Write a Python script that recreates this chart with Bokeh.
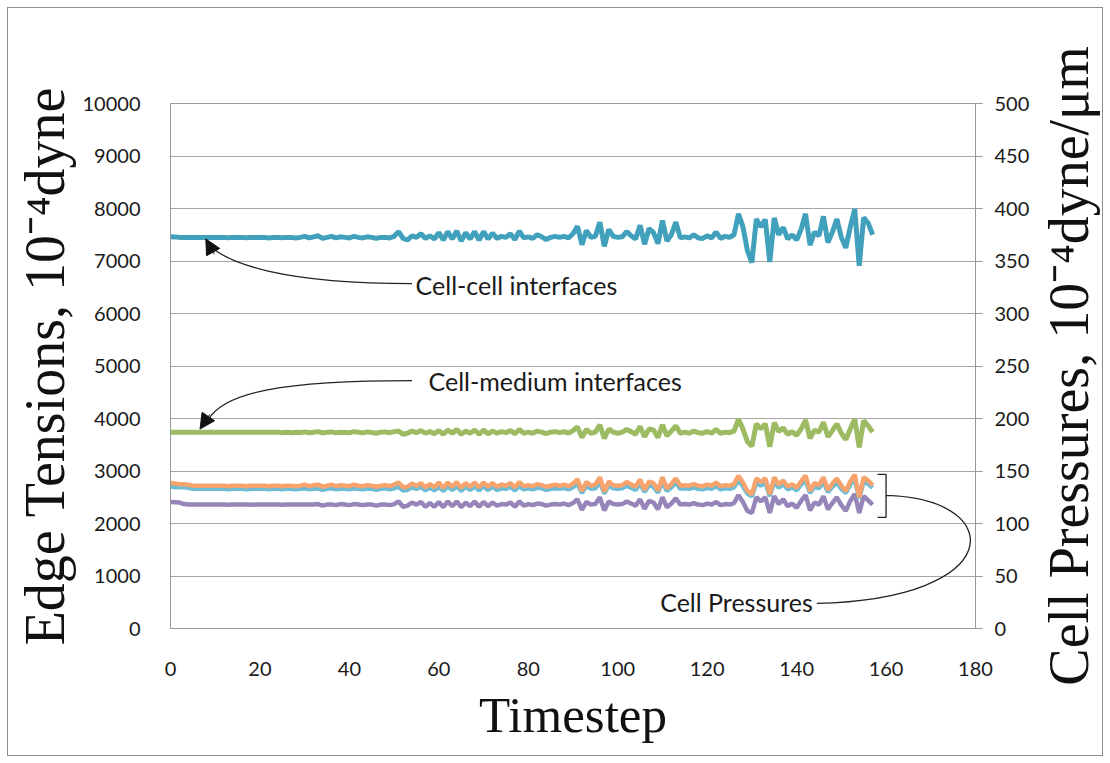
from bokeh.plotting import figure
from bokeh.layouts import row
from bokeh.models import (Range1d, LinearAxis, SingleIntervalTicker, FixedTicker,
                          Arrow, NormalHead)
from bokeh.embed import file_html
from bokeh.resources import INLINE
from bokeh.core.properties import value

# ---------------- data ----------------
cell_cell = [
    7460, 7455, 7450, 7450, 7450, 7450, 7450, 7450, 7450, 7450,
    7450, 7450, 7450, 7445, 7450, 7450, 7450, 7445, 7450, 7450,
    7450, 7450, 7440, 7450, 7450, 7445, 7450, 7450, 7440, 7450,
    7470, 7440, 7460, 7480, 7430, 7450, 7470, 7440, 7460, 7450,
    7440, 7470, 7450, 7440, 7460, 7450, 7430, 7450, 7450, 7440,
    7470, 7560, 7430, 7400, 7480, 7450, 7520, 7430, 7480, 7420,
    7540, 7400, 7560, 7420, 7570, 7380, 7540, 7420, 7560, 7400,
    7560, 7420, 7530, 7430, 7470, 7450, 7520, 7410, 7570, 7440,
    7460, 7430, 7500, 7460, 7410, 7450, 7470, 7450, 7470, 7440,
    7520, 7660, 7310, 7580, 7450, 7470, 7740, 7280, 7600, 7470,
    7450, 7460, 7560, 7480, 7420, 7680, 7320, 7620, 7540, 7330,
    7770, 7380, 7500, 7740, 7440, 7460, 7440, 7500, 7440, 7430,
    7480, 7440, 7550, 7430, 7470, 7450, 7500, 7900, 7650, 7200,
    6970, 7800, 7650, 7790, 6980, 7820, 7500, 7640, 7420, 7500,
    7400, 7600, 7900, 7300, 7550, 7480, 7850, 7350, 7550, 7800,
    7450, 7250, 7650, 7990, 6910, 7830, 7720, 7500,
]
cell_medium = [
    3740, 3740, 3740, 3740, 3740, 3740, 3740, 3740, 3740, 3740,
    3740, 3740, 3740, 3740, 3740, 3740, 3740, 3740, 3740, 3740,
    3740, 3740, 3740, 3740, 3740, 3730, 3740, 3730, 3740, 3735,
    3745, 3730, 3740, 3750, 3725, 3740, 3745, 3730, 3740, 3735,
    3730, 3750, 3740, 3725, 3745, 3735, 3720, 3740, 3745, 3730,
    3750, 3760, 3700, 3720, 3760, 3730, 3770, 3720, 3750, 3710,
    3770, 3700, 3780, 3720, 3790, 3700, 3760, 3720, 3780, 3700,
    3780, 3710, 3760, 3720, 3750, 3730, 3770, 3710, 3790, 3720,
    3740, 3720, 3760, 3740, 3710, 3740, 3750, 3730, 3750, 3720,
    3770, 3840, 3640, 3790, 3720, 3740, 3880, 3620, 3800, 3740,
    3720, 3740, 3790, 3750, 3700, 3850, 3650, 3800, 3780, 3640,
    3880, 3670, 3760, 3860, 3720, 3740, 3720, 3760, 3730, 3720,
    3750, 3720, 3790, 3720, 3740, 3730, 3760, 3990, 3800, 3560,
    3470, 3900, 3800, 3900, 3460, 3920, 3750, 3820, 3700, 3750,
    3680, 3800, 3970, 3620, 3780, 3740, 3930, 3650, 3770, 3900,
    3720, 3600, 3800, 3990, 3450, 3960, 3860, 3740,
]
pressure_orange = [
    138.5, 138, 137.5, 137.5, 137, 136, 136, 136, 136, 136,
    136, 136, 136, 135.5, 136, 136, 136, 135.5, 136, 136,
    136, 136, 135.5, 136, 136, 135.5, 136, 136, 135.5, 136,
    137, 135.5, 136.5, 137, 135, 136, 137, 135.5, 136.5, 136,
    135.5, 137, 136, 135.5, 136.5, 136, 135, 136, 136.5, 135.5,
    137, 139, 134.5, 135, 138, 136, 138.5, 134.5, 137.5, 134.5,
    139, 134, 139, 135, 139.5, 134, 138.5, 135, 139, 134.5,
    139, 135, 138.5, 135, 137, 136, 138.5, 134.5, 139.5, 135.5,
    136.5, 135.5, 137.5, 136.5, 135, 136, 137, 136, 137, 135.5,
    138, 142, 131, 139.5, 136, 137, 144, 130.5, 140, 136.5,
    136, 136.5, 139.5, 137, 135, 142, 132, 140, 138.5, 131.5,
    144, 133.5, 137.5, 143, 136, 136.5, 136, 137.5, 136, 135.5,
    137, 136, 139, 135.5, 136.5, 136, 137.5, 145.5, 139, 131,
    128, 143, 139.5, 143, 128, 144, 137, 141, 135, 137.5,
    134, 140, 145.5, 131, 138.5, 136.5, 144, 132, 138, 143,
    136, 131, 140, 146.5, 125, 144, 141, 136.5,
]
pressure_cyan = [
    135.5, 134.5, 134.5, 134.5, 134, 133, 133, 133, 133, 133,
    133, 133, 133, 132.5, 133, 133, 133, 132.5, 133, 133,
    133, 133, 132.5, 133, 133, 132.5, 133, 133, 132.5, 133,
    133.5, 132.5, 133, 133.5, 132, 133, 133.5, 132.5, 133, 133,
    132.5, 133.5, 133, 132.5, 133, 133, 132, 133, 133.5, 132.5,
    133.5, 135, 131.5, 132, 134.5, 133, 135, 131.5, 134, 131.5,
    135, 131, 135.5, 132, 135.5, 131, 135, 132, 135.5, 131.5,
    135.5, 132, 135, 132, 133.5, 133, 135, 131.5, 135.5, 132.5,
    133.5, 132.5, 134, 133.5, 132, 133, 133.5, 133, 134, 132.5,
    134.5, 138, 129, 136, 133, 133.5, 139.5, 128.5, 136.5, 133.5,
    133, 133.5, 136, 134, 132, 138, 130, 136.5, 135, 129.5,
    139.5, 131, 134.5, 139, 133, 133.5, 133, 134.5, 133, 132.5,
    134, 133, 135.5, 132.5, 133.5, 133, 134.5, 141, 135.5, 128.5,
    126, 139, 136, 139, 126, 140, 134, 137.5, 132.5, 134.5,
    131.5, 137, 141, 129, 135, 133.5, 140, 130, 135, 139,
    133, 129, 137, 142, 124, 140, 137.5, 134,
]
pressure_purple = [
    120.5, 120.3, 120, 118.5, 118, 118, 118, 118, 118, 118,
    118, 118, 118, 117.8, 118, 118, 118, 118, 117.8, 118,
    118, 118, 118, 118, 118, 117.8, 118, 118, 118, 118,
    118, 118, 118, 118.5, 117, 118, 118, 117.5, 118.5, 118,
    117.5, 118.5, 118, 117.5, 118, 118, 117, 118, 118, 117.5,
    118.5, 121, 116, 117, 120, 118, 120.5, 116, 119.5, 116,
    120.5, 115.5, 121, 116.5, 121, 115.5, 120, 116.5, 121, 116,
    120.5, 116.5, 120, 117, 118.5, 118, 120, 116, 121, 117,
    118.5, 117.5, 119, 118.5, 117, 118, 118.5, 118, 119, 117.5,
    119.5, 123, 113, 120.5, 118, 118.5, 125, 112.5, 121, 118.5,
    118, 118.5, 121, 119, 117, 123, 114, 121.5, 120, 113.5,
    125, 115.5, 119, 124, 118, 118.5, 118, 119.5, 118, 117.5,
    119, 118, 120.5, 117.5, 118.5, 118, 119.5, 127, 120.5, 112,
    110, 125, 121, 125, 110, 126, 118.5, 123, 116.5, 119,
    115, 121.5, 127, 112.5, 120, 118, 126, 113.5, 119.5, 125,
    117.5, 112, 121.5, 128, 110, 126, 122, 118,
]
timesteps = list(range(len(cell_cell)))

x_ticks_step = 20
left_ticks_step = 1000
right_ticks_step = 50

lab_font = "Liberation Serif"
TOP, BOTTOM = 95, 127

# ---------------- main figure ----------------
p = figure(width=1026, height=747, output_backend="svg", toolbar_location=None,
           x_range=Range1d(0, 180), y_range=Range1d(0, 10000),
           min_border_left=162, min_border_right=59, min_border_top=TOP,
           min_border_bottom=BOTTOM)
p.extra_y_ranges = {"press": Range1d(0, 500)}
p.background_fill_color = "white"
p.border_fill_color = "white"
p.outline_line_color = "#9a9a9a"
p.outline_line_width = 1

p.xgrid.grid_line_color = None
p.ygrid.grid_line_color = "#a6a6a6"
p.ygrid.grid_line_width = 1

# x axis
xa = p.xaxis[0]
xa.ticker = SingleIntervalTicker(interval=x_ticks_step)
xa.axis_line_color = None
xa.major_tick_line_color = None
xa.minor_tick_line_color = None
xa.major_label_standoff = 27
xa.major_label_text_font = "Lato"
xa.major_label_text_font_size = "20px"
xa.major_label_text_color = "#1a1a1a"
xa.axis_label = "Timestep"
xa.axis_label_text_font = lab_font
xa.axis_label_text_font_style = "normal"
xa.axis_label_text_font_size = "51px"
xa.axis_label_text_color = "#111111"
xa.axis_label_standoff = 8

# left axis
ya = p.yaxis[0]
ya.ticker = SingleIntervalTicker(interval=left_ticks_step)
ya.axis_line_color = "#9a9a9a"
ya.major_tick_line_color = None
ya.minor_tick_line_color = None
ya.major_label_standoff = 24
ya.major_label_text_font = "Lato"
ya.major_label_text_font_size = "20px"
ya.major_label_text_color = "#1a1a1a"
ya.axis_label = "Edge Tensions, 10\u207b\u2074dyne"
ya.axis_label_text_font = lab_font
ya.axis_label_text_font_style = "normal"
ya.axis_label_text_font_size = "56px"
ya.axis_label_text_color = "#111111"
ya.axis_label_standoff = 4

# right axis (ticks and numbers)
ra = LinearAxis(y_range_name="press",
                ticker=SingleIntervalTicker(interval=right_ticks_step))
ra.axis_line_color = "#9a9a9a"
ra.major_tick_line_color = "#9a9a9a"
ra.major_tick_out = 7
ra.major_tick_in = 0
ra.minor_tick_line_color = None
ra.major_label_standoff = 12
ra.major_label_text_font = "Lato"
ra.major_label_text_font_size = "20px"
ra.major_label_text_color = "#1a1a1a"
p.add_layout(ra, "right")

# ---------------- series ----------------
p.line(timesteps, pressure_purple, y_range_name="press", line_color="#9585b9", line_width=4.5)
p.line(timesteps, pressure_cyan, y_range_name="press", line_color="#6cbcd5", line_width=4.5)
p.line(timesteps, pressure_orange, y_range_name="press", line_color="#f7a36e", line_width=4.5)
p.line(timesteps, cell_medium, line_color="#9cbb62", line_width=5)
p.line(timesteps, cell_cell, line_color="#41a1bd", line_width=5)

# ---------------- annotations ----------------
ann_font = value("Lato")
ann_size = "25px"
p.text(x=[54.8], y=[6540], text=["Cell-cell interfaces"], text_font=ann_font,
       text_font_size=ann_size, text_color="#1a1a1a", text_baseline="middle", text_align="left")
p.text(x=[57.7], y=[4705], text=["Cell-medium interfaces"], text_font=ann_font,
       text_font_size=ann_size, text_color="#1a1a1a", text_baseline="middle", text_align="left")
p.text(x=[109.5], y=[514], text=["Cell Pressures"], text_font=ann_font,
       text_font_size=ann_size, text_color="#1a1a1a", text_baseline="middle", text_align="left")

# cell-cell arrow curve
p.bezier(x0=[54.0], y0=[6570], x1=[8.6], y1=[7300], cx0=[25.0], cy0=[6570],
         cx1=[13.0], cy1=[6950], line_color="#222222", line_width=1.3)
p.add_layout(Arrow(x_start=9.8, y_start=7130, x_end=7.9, y_end=7420, line_width=1,
                   line_color="#111111",
                   end=NormalHead(size=15, fill_color="#111111", line_color="#111111")))
# cell-medium arrow curve
p.bezier(x0=[54.0], y0=[4720], x1=[8.5], y1=[3980], cx0=[25.0], cy0=[4720],
         cx1=[12.0], cy1=[4500], line_color="#222222", line_width=1.3)
p.add_layout(Arrow(x_start=8.8, y_start=4080, x_end=6.6, y_end=3800, line_width=1,
                   line_color="#111111",
                   end=NormalHead(size=15, fill_color="#111111", line_color="#111111")))
# cell pressures bracket + curve
p.multi_line(xs=[[158.1, 160.0, 160.0, 158.1], [160.0, 161.3]],
             ys=[[2935, 2935, 2115, 2115], [2530, 2530]],
             line_color="#222222", line_width=1.3)
p.bezier(x0=[144.5], y0=[480], x1=[161.3], y1=[2530], cx0=[187.0], cy0=[560],
         cx1=[187.0], cy1=[2420], line_color="#222222", line_width=1.3)

# ---------------- right title strip (reads bottom-to-top) ----------------
q = figure(width=68, height=747, output_backend="svg", toolbar_location=None,
           x_range=Range1d(0, 1), y_range=Range1d(0, 1),
           min_border_left=64, min_border_right=0, min_border_top=TOP,
           min_border_bottom=BOTTOM)
q.outline_line_color = None
q.background_fill_color = "white"
q.border_fill_color = "white"
q.xgrid.grid_line_color = None
q.ygrid.grid_line_color = None
q.xaxis.visible = False
qa = q.yaxis[0]
qa.ticker = FixedTicker(ticks=[])
qa.axis_line_color = None
qa.major_tick_line_color = None
qa.minor_tick_line_color = None
qa.axis_label = "Cell Pressures, 10\u207b\u2074dyne/\u03bcm"
qa.axis_label_text_font = lab_font
qa.axis_label_text_font_style = "normal"
qa.axis_label_text_font_size = "56px"
qa.axis_label_text_color = "#111111"
qa.axis_label_standoff = 0

layout = row(p, q, styles={"margin": "7px", "border": "1px solid #8c8c8c"})

open("out.html", "w").write(file_html(layout, INLINE))
